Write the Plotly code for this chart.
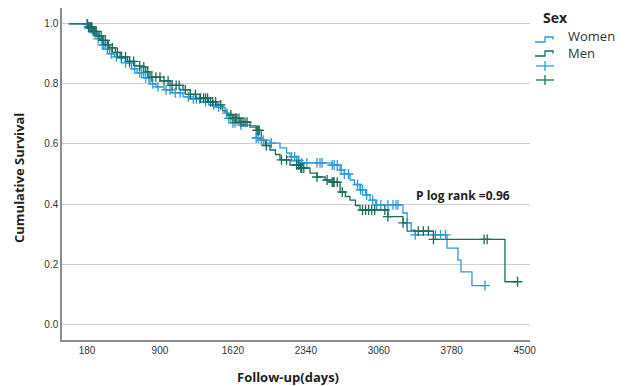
import numpy as np
import plotly.graph_objects as go

# ---- data (days, cumulative survival) ----
women_t = [0, 200, 240, 280, 320, 360, 400, 450, 506, 560, 620, 674, 740, 802, 860, 940,
           1020, 1128, 1200, 1295, 1380, 1463, 1542, 1580, 1600, 1690, 1789, 1850, 1888,
           1986, 2085, 2150, 2184, 2250, 2283, 2600, 2678, 2720, 2776, 2820, 2875, 2930,
           2974, 3030, 3299, 3340, 3380, 3420, 3734, 3842, 3872, 3980, 4109]
women_s = [1.0, 0.985, 0.97, 0.95, 0.93, 0.915, 0.90, 0.89, 0.885, 0.87, 0.85, 0.837, 0.82,
           0.80, 0.79, 0.78, 0.77, 0.757, 0.75, 0.74, 0.73, 0.723, 0.703, 0.685, 0.67, 0.663,
           0.655, 0.62, 0.613, 0.603, 0.587, 0.57, 0.557, 0.545, 0.537, 0.53, 0.513, 0.50,
           0.48, 0.465, 0.447, 0.43, 0.413, 0.397, 0.37, 0.337, 0.313, 0.297, 0.253, 0.213,
           0.174, 0.128, 0.128]

men_t = [0, 190, 230, 280, 330, 380, 407, 460, 506, 580, 650, 703, 760, 802, 901, 1000,
         1128, 1200, 1295, 1380, 1463, 1520, 1562, 1620, 1690, 1789, 1850, 1900, 1940, 1986,
         2040, 2085, 2184, 2283, 2381, 2450, 2530, 2579, 2678, 2730, 2776, 2830, 2875, 3150,
         3299, 3340, 3600, 4306, 4430]
men_s = [1.0, 0.99, 0.975, 0.96, 0.945, 0.93, 0.92, 0.905, 0.89, 0.875, 0.86, 0.857, 0.84,
         0.823, 0.81, 0.795, 0.78, 0.765, 0.753, 0.74, 0.73, 0.71, 0.697, 0.685, 0.673, 0.66,
         0.645, 0.613, 0.595, 0.58, 0.565, 0.547, 0.53, 0.52, 0.503, 0.49, 0.48, 0.473, 0.44,
         0.425, 0.413, 0.395, 0.38, 0.358, 0.337, 0.31, 0.282, 0.141, 0.141]

women_censor_t = [185, 200, 215, 230, 260, 290, 330, 345, 380, 420, 470, 520, 560, 600, 650,
                  700, 720, 760, 790, 830, 880, 960, 1000, 1050, 1100, 1180, 1230, 1260, 1290,
                  1350, 1430, 1480, 1560, 1580, 1620, 1640, 1700, 1850, 1870, 1900, 1920, 2000,
                  2200, 2230, 2250, 2270, 2300, 2350, 2450, 2480, 2500, 2600, 2620, 2650, 2690,
                  2720, 2760, 2850, 2880, 2900, 2940, 3000, 3040, 3080, 3150, 3200, 3230, 3250,
                  3340, 3420, 3620, 3670, 3720, 4109]
men_censor_t = [180, 195, 210, 225, 240, 255, 270, 300, 320, 340, 360, 390, 430, 480, 520, 560,
                600, 640, 700, 740, 780, 820, 860, 900, 940, 980, 1020, 1060, 1090, 1150, 1200,
                1250, 1300, 1330, 1350, 1370, 1400, 1420, 1450, 1500, 1600, 1620, 1640, 1650,
                1660, 1680, 1700, 1720, 1740, 1760, 1860, 1870, 1880, 1950, 2100, 2150, 2250,
                2270, 2290, 2300, 2320, 2450, 2550, 2600, 2610, 2620, 2650, 2700, 2900, 2930,
                2960, 2990, 3020, 3120, 3150, 3300, 3450, 3500, 3550, 3600, 4100, 4130, 4430]

x_ticks = [180, 900, 1620, 2340, 3060, 3780, 4500]
y_ticks = [0.0, 0.2, 0.4, 0.6, 0.8, 1.0]
y_tick_text = ["0.0", "0.2", "0.4", "0.6", "0.8", "1.0"]

WOMEN_C = "#2f9ad8"
MEN_C = "#1d6b5c"


def surv_at(ts, ss, t):
    i = int(np.searchsorted(ts, t, side="right")) - 1
    return ss[max(i, 0)]


women_censor_s = [surv_at(women_t, women_s, t) for t in women_censor_t]
men_censor_s = [surv_at(men_t, men_s, t) for t in men_censor_t]

fig = go.Figure()
fig.add_trace(go.Scatter(x=women_t, y=women_s, mode="lines", line=dict(shape="hv", color=WOMEN_C, width=1.3),
                         name="Women", showlegend=False))
fig.add_trace(go.Scatter(x=men_t, y=men_s, mode="lines", line=dict(shape="hv", color=MEN_C, width=1.3),
                         name="Men", showlegend=False))
fig.add_trace(go.Scatter(x=women_censor_t, y=women_censor_s, mode="markers",
                         marker=dict(symbol="cross-thin", size=7, line=dict(color=WOMEN_C, width=1.3)),
                         showlegend=False))
fig.add_trace(go.Scatter(x=men_censor_t, y=men_censor_s, mode="markers",
                         marker=dict(symbol="cross-thin", size=7, line=dict(color=MEN_C, width=1.3)),
                         showlegend=False))

# page-pixel helpers for paper placement (plot area on page: x 62..530, y 8..340;
# page body has an 8px margin, so figure margins are shifted by 8)
def px(p):
    return (p - 62) / 468.0


def py(p):
    return (340 - p) / 332.0


FONT = "Open Sans"


def ann(text, x, y, size, xanchor="center", color="#222", **kw):
    return dict(text=text, x=px(x), y=py(y), xref="paper", yref="paper", xanchor=xanchor,
                yanchor="middle", showarrow=False, font=dict(family=FONT, size=size, color=color), **kw)


annotations = [
    ann("<b>Cumulative Survival</b>", 19, 178, 13, textangle=-90),
    ann("<b>Follow-up(days)</b>", 288, 377, 13),
    ann("<b>P log rank =0.96</b>", 463, 196, 12),
    ann("<b>Sex</b>", 555, 17, 14),
    ann("Women", 566, 36, 13, xanchor="left", color="#333"),
    ann("Men", 566, 53, 13, xanchor="left", color="#333"),
]


def path(points):
    return "M " + " L ".join(f"{px(a):.4f},{py(b):.4f}" for a, b in points)


shapes = [
    dict(type="path", xref="paper", yref="paper", path=path([(535, 42), (545, 42), (545, 37), (553, 37), (553, 39.5)]),
         line=dict(color=WOMEN_C, width=1.3)),
    dict(type="path", xref="paper", yref="paper", path=path([(535, 56), (545, 56), (545, 51), (553, 51), (553, 53.5)]),
         line=dict(color=MEN_C, width=1.3)),
    dict(type="line", xref="paper", yref="paper", x0=px(536), x1=px(554), y0=py(66), y1=py(66), line=dict(color=WOMEN_C, width=1.3)),
    dict(type="line", xref="paper", yref="paper", x0=px(545), x1=px(545), y0=py(61), y1=py(71), line=dict(color=WOMEN_C, width=1.3)),
    dict(type="line", xref="paper", yref="paper", x0=px(536), x1=px(554), y0=py(80), y1=py(80), line=dict(color=MEN_C, width=1.3)),
    dict(type="line", xref="paper", yref="paper", x0=px(545), x1=px(545), y0=py(75), y1=py(85), line=dict(color=MEN_C, width=1.3)),
]

fig.update_layout(
    width=618, height=378,
    margin=dict(l=54, r=96, t=0, b=46),
    paper_bgcolor="white", plot_bgcolor="white",
    showlegend=False,
    annotations=annotations,
    shapes=shapes,
    xaxis=dict(range=[-67, 4553], tickvals=x_ticks, ticktext=[str(v) for v in x_ticks],
               showgrid=False, zeroline=False, showline=True, linecolor="#8c8c8c", linewidth=1.5,
               ticks="", tickfont=dict(family="Liberation Sans", size=10, color="#333")),
    yaxis=dict(range=[-0.053, 1.053], tickvals=y_ticks, ticktext=y_tick_text,
               showgrid=True, gridcolor="#cfcfcf", gridwidth=1.3, zeroline=False,
               showline=True, linecolor="#8c8c8c", linewidth=1.5, ticks="",
               tickfont=dict(family="Liberation Sans", size=10, color="#333")),
)

fig.write_html("out.html")
